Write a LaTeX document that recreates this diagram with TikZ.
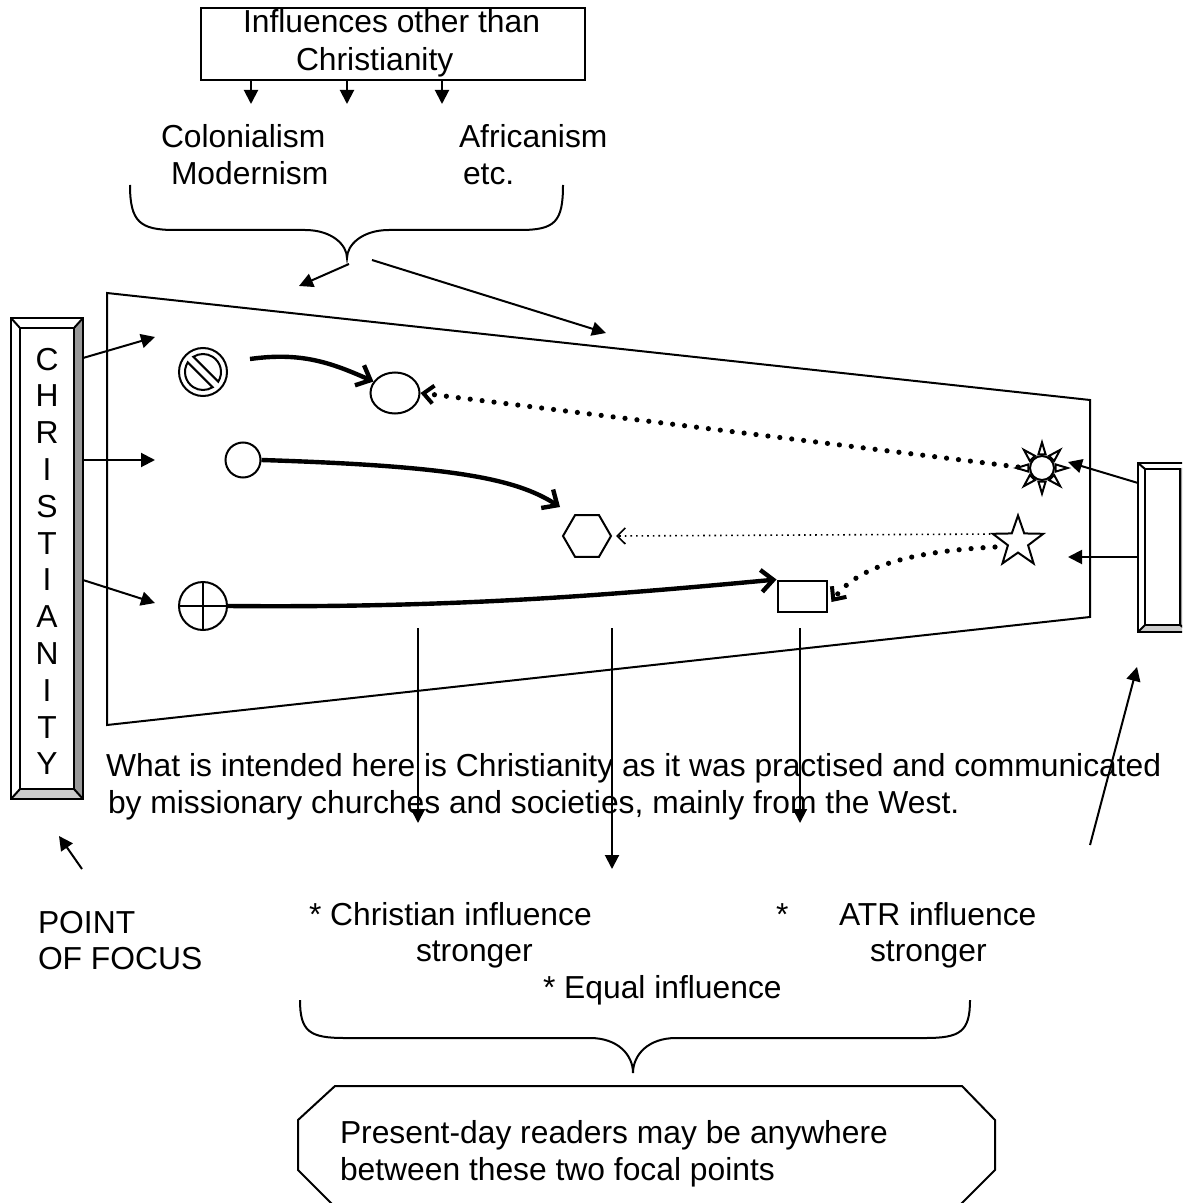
\documentclass[tikz,border=0pt]{standalone}
\usepackage{fontspec}
\setmainfont{Liberation Sans}
\usetikzlibrary{arrows.meta,shapes.geometric,positioning,calc}

\begin{document}
\begin{tikzpicture}[x=0.5pt,y=-0.5pt,line width=1pt,
  font=\fontsize{15.9}{18.5}\selectfont,
  mytext/.style={anchor=base west,inner sep=0},
  myletter/.style={anchor=base,inner sep=0},
  mysymb/.style={draw,line width=1pt,inner sep=0},
  myarrow/.style={line width=1pt,-{Triangle[length=7pt,width=7pt]}},
  mybold/.style={line width=2.2pt,-{Straight Barb[length=6pt,width=11pt]}},
  mydots/.style={line width=2.6pt,line cap=round,dash pattern=on 0pt off 6pt,-{Straight Barb[length=5pt,width=9pt,line width=2pt]}},
  myfine/.style={line width=0.8pt,dotted,-{Straight Barb[length=4pt,width=8pt,line width=0.8pt]}}]
\path[use as bounding box,clip] (0,0) rectangle (1182,1203);

% top box with the other influences
\node[draw,minimum width=192pt,minimum height=36pt,inner sep=0] (infl) at (393,44) {};
\node[mytext] (infl1) at (242,33) {Influences other than};
\node[mytext] (infl2) at (295,71) {Christianity};
\foreach \x/\n in {251/a,347/b,442/c}
{ \coordinate (i\n) at (\x,80); \coordinate (o\n) at (\x,104);
  \draw[myarrow] (i\n) -- (o\n); }
\node[mytext] (colon) at (160,148) {Colonialism};
\node[mytext] (modern) at (170,185) {Modernism};
\node[mytext] (afric) at (458,148) {Africanism};
\node[mytext] (etc) at (462,185) {etc.};

% upper brace
\draw (130,185) .. controls (130,222) and (140,230) .. (175,230) -- (305,230)
  .. controls (332,230) and (347,245) .. (347,258)
  .. controls (347,245) and (362,230) .. (389,230) -- (520,230)
  .. controls (555,230) and (563,222) .. (563,185);
\coordinate (tb1) at (349,264);
\coordinate (tb2) at (372,260);
\coordinate (tf1) at (299,286);
\coordinate (tf2) at (606,333);
\draw[myarrow] (tb1) -- (tf1);
\draw[myarrow] (tb2) -- (tf2);

% the field between the two focal points
\draw (107,293) -- (1090,400) -- (1090,617) -- (107,725) -- cycle;

% left focal point
\fill[black!40] (74,328) -- (83,318) -- (83,799) -- (74,789) -- cycle;
\fill[black!20] (20,789) -- (74,789) -- (83,799) -- (11,799) -- cycle;
\draw (11,318) rectangle (83,799);
\draw (20,328) rectangle (74,789);
\draw (11,318) -- (20,328) (83,318) -- (74,328) (11,799) -- (20,789) (83,799) -- (74,789);
\node[minimum width=36pt,minimum height=240.5pt,inner sep=0] (chr) at (47,558.5) {};
\foreach \ch [count=\i] in {C,H,R,I,S,T,I,A,N,I,T,Y}
{ \node[myletter] (ch\i) at (47,{370+36.8*(\i-1)}) {\ch}; }

% right focal point
\fill[black!40] (1180,469) -- (1190,463) -- (1190,632) -- (1180,625) -- cycle;
\fill[black!20] (1145,625) -- (1180,625) -- (1190,632) -- (1138,632) -- cycle;
\draw (1138,463) rectangle (1190,632);
\draw (1145,469) rectangle (1180,625);
\draw (1138,463) -- (1145,469) (1138,632) -- (1145,625) (1190,632) -- (1180,625);
\node[minimum width=26pt,minimum height=84.5pt,inner sep=0] (atr) at (1164,547.5) {};

% symbols
\node[mysymb,circle,minimum size=24pt] (nosign) at (203,372) {};
\draw (nosign.center) ++(-32.2:9pt) arc[start angle=-32.2,end angle=122.2,radius=9pt] -- cycle;
\draw (nosign.center) ++(147.8:9pt) arc[start angle=147.8,end angle=302.2,radius=9pt] -- cycle;
\node[mysymb,ellipse,minimum width=24.5pt,minimum height=20.5pt] (ell) at (395,393) {};
\node[mysymb,circle,minimum size=17.5pt] (circ) at (243,460) {};
\node[mysymb,regular polygon,regular polygon sides=6,minimum size=24pt] (hex) at (587,536) {};
\node[mysymb,circle,minimum size=24pt] (cross) at (203,606) {};
\draw (cross.north) -- (cross.south) (cross.west) -- (cross.east);
\node[mysymb,rectangle,minimum width=24.5pt,minimum height=15.5pt] (rect) at (802,596) {};
\node[mysymb,circle,minimum size=12pt] (sun) at (1042,468) {};
\foreach \a in {0,45,...,315}
{ \draw ($(sun.center)+(\a+15:7pt)$) -- ($(sun.center)+(\a:12.8pt)$) -- ($(sun.center)+(\a-15:7pt)$) -- cycle; }
\node[mysymb,star,star points=5,star point ratio=2.5,minimum size=26.5pt] (star) at (1018,542) {};

% arrows inside the field
\coordinate (nsout) at (250,359);
\coordinate (hexin) at (560,507);
\coordinate (sunout) at (1018,467);
\coordinate (starout1) at (996,534);
\coordinate (starout2) at (995,547);
\draw[mybold] (nsout) .. controls (300,352) and (330,362) .. (ell.152);
\draw[mybold] (circ.east) .. controls (450,466) and (515,478) .. (hexin);
\draw[mybold] (cross.east) .. controls (450,608) and (600,596) .. (rect.north west);
\draw[mydots] (sunout) -- (ell.east);
\draw[myfine] (starout1) -- ([xshift=2pt]hex.east);
\draw[mydots] (starout2) .. controls (900,552) and (855,570) .. ([xshift=2pt,yshift=-3pt]rect.east);

% arrows from the focal points
\foreach \y/\ty/\n in {358/337/1,460/460/2,580/603/3}
{ \coordinate (cs\n) at (83,\y); \coordinate (ct\n) at (155,\ty);
  \draw[myarrow] (cs\n) -- (ct\n); }
\foreach \y/\ty/\n in {483/462/1,557/557/2}
{ \coordinate (as\n) at (1138,\y); \coordinate (at\n) at (1068,\ty);
  \draw[myarrow] (as\n) -- (at\n); }

% downward arrows
\foreach \x/\ty/\n in {418/823/1,612/869/2,800/823/3}
{ \coordinate (ds\n) at (\x,628); \coordinate (dt\n) at (\x,\ty);
  \draw[myarrow] (ds\n) -- (dt\n); }

% explanatory text
\node[mytext] (expl1) at (105,776) {What is intended here is Christianity as it was practised and communicated};
\node[mytext] (expl2) at (107,813) {by missionary churches and societies, mainly from the West.};

% pointers to the focal points
\coordinate (pfs) at (82,869);
\coordinate (pft) at (59,836);
\draw[myarrow] (pfs) -- (pft);
\coordinate (rfs) at (1090,845);
\coordinate (rft) at (1137,667);
\draw[myarrow] (rfs) -- (rft);
\node[mytext] (point) at (37,933) {POINT};
\node[mytext] (focus) at (37,969) {OF FOCUS};

% kinds of influence
\node[mytext] (chrinf) at (308,925) {* Christian influence};
\node[mytext] (chrstr) at (415,961) {stronger};
\node[mytext] (eqinf) at (542,998) {* Equal influence};
\node[mytext] (atrstar) at (775,925) {*};
\node[mytext] (atrinf) at (838,925) {ATR influence};
\node[mytext] (atrstr) at (869,961) {stronger};

% lower brace
\draw (300,1000) .. controls (300,1032) and (310,1038) .. (345,1038) -- (590,1038)
  .. controls (618,1038) and (633,1055) .. (633,1073)
  .. controls (633,1055) and (648,1038) .. (676,1038) -- (925,1038)
  .. controls (960,1038) and (970,1032) .. (970,1000);

% readers box
\draw (333,1205) -- (298,1170) -- (298,1120) -- (335,1086) -- (962,1086)
  -- (995,1120) -- (995,1170) -- (960,1205);
\node[mytext] (read1) at (339,1143) {Present-day readers may be anywhere};
\node[mytext] (read2) at (339,1180) {between these two focal points};
\end{tikzpicture}
\end{document}
